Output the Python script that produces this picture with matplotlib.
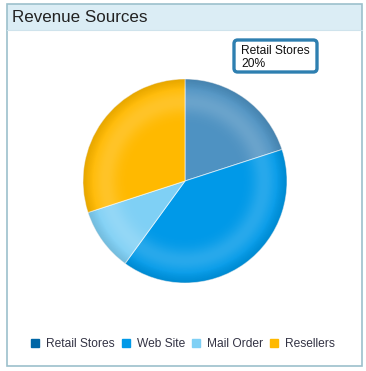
import numpy as np
import matplotlib
matplotlib.use("Agg")
import matplotlib.pyplot as plt
from matplotlib.patches import Rectangle, FancyBboxPatch, Circle
from matplotlib.lines import Line2D

plt.rcParams['font.family'] = ['Liberation Sans', 'DejaVu Sans']

# data
categories = ["Retail Stores", "Web Site", "Mail Order", "Resellers"]
shares = [20, 40, 10, 30]
colors = ["#0066a6", "#0099e8", "#7fd0f5", "#ffb900"]
hover_color = "#4e92c2"   # Retail Stores slice is highlighted (hovered)
title = "Revenue Sources"

W, H = 366, 371
fig = plt.figure(figsize=(W / 100, H / 100), dpi=100)
fig.patch.set_facecolor("white")

PX = 72 / 100  # points per pixel at dpi 100


def fx(px):
    return px / W


def fy(py):
    return 1 - py / H


# panel frame and header band
fig.patches.append(Rectangle((fx(7), fy(30)), fx(355), 26 / H, transform=fig.transFigure,
                             facecolor="#dbedf5", edgecolor="none", zorder=0))
fig.patches.append(Rectangle((fx(7), fy(366)), fx(355), 362 / H, transform=fig.transFigure,
                             facecolor="none", edgecolor="#9cc0cc", linewidth=1.2, zorder=1))
fig.add_artist(Line2D([fx(7), fx(362)], [fy(30), fy(30)], transform=fig.transFigure,
                      color="#cfe3ec", linewidth=0.8))
fig.text(fx(12), fy(18), title, fontsize=17 * PX, color="#222222", va="center", ha="left")

# pie
cx, cy, r = 185, 181, 102
ax = fig.add_axes([fx(cx - r), fy(cy + r), 2 * r / W, 2 * r / H])
slice_colors = [hover_color] + colors[1:]
wedges, _ = ax.pie(shares, colors=slice_colors, startangle=90, counterclock=False,
                   radius=1, wedgeprops=dict(edgecolor=(1, 1, 1, 0.6), linewidth=0.7))
ax.axis("off")

# soft radial shading (lighter ring inside, darker rim)
g = np.linspace(-1, 1, 300)
xx, yy = np.meshgrid(g, g)
rr = np.sqrt(xx ** 2 + yy ** 2)
shade = np.zeros((300, 300, 4))
shade[..., :3] = 1.0
shade[..., 3] = np.clip(0.16 * np.exp(-((rr - 0.78) / 0.12) ** 2), 0, 1)
rim = np.zeros((300, 300, 4))
rim[..., 3] = np.clip((rr - 0.9) / 0.1, 0, 1) * 0.10
img = ax.imshow(shade, extent=(-1, 1, -1, 1), zorder=3, interpolation="bilinear")
img2 = ax.imshow(rim, extent=(-1, 1, -1, 1), zorder=3, interpolation="bilinear")
clip = Circle((0, 0), 1, transform=ax.transData)
img.set_clip_path(clip)
img2.set_clip_path(clip)
ax.set_xlim(-1, 1)
ax.set_ylim(-1, 1)
ax.set_aspect("auto")

# tooltip
fig.patches.append(FancyBboxPatch((fx(234), fy(72)), fx(83), 32 / H,
                                  boxstyle="round,pad=0,rounding_size=0.01",
                                  transform=fig.transFigure, facecolor="white",
                                  edgecolor="#2e7fb0", linewidth=2.4, zorder=5))
fig.text(fx(241), fy(50.5), "Retail Stores", fontsize=12 * PX, color="#111111",
         va="center", ha="left", zorder=6)
fig.text(fx(241), fy(64), "20%", fontsize=12 * PX, color="#111111",
         va="center", ha="left", zorder=6)

# legend
handles = [Line2D([], [], marker="s", linestyle="none", markersize=8 * PX,
                  markerfacecolor=c, markeredgecolor=c) for c in colors]
fig.legend(handles, categories, loc="center", bbox_to_anchor=(fx(183), fy(344)),
           ncol=4, frameon=False, fontsize=12 * PX, handlelength=0.67, handletextpad=0.6,
           columnspacing=0.55, labelcolor="#333344", borderaxespad=0)

fig.savefig("out.png", dpi=100, facecolor="white")
